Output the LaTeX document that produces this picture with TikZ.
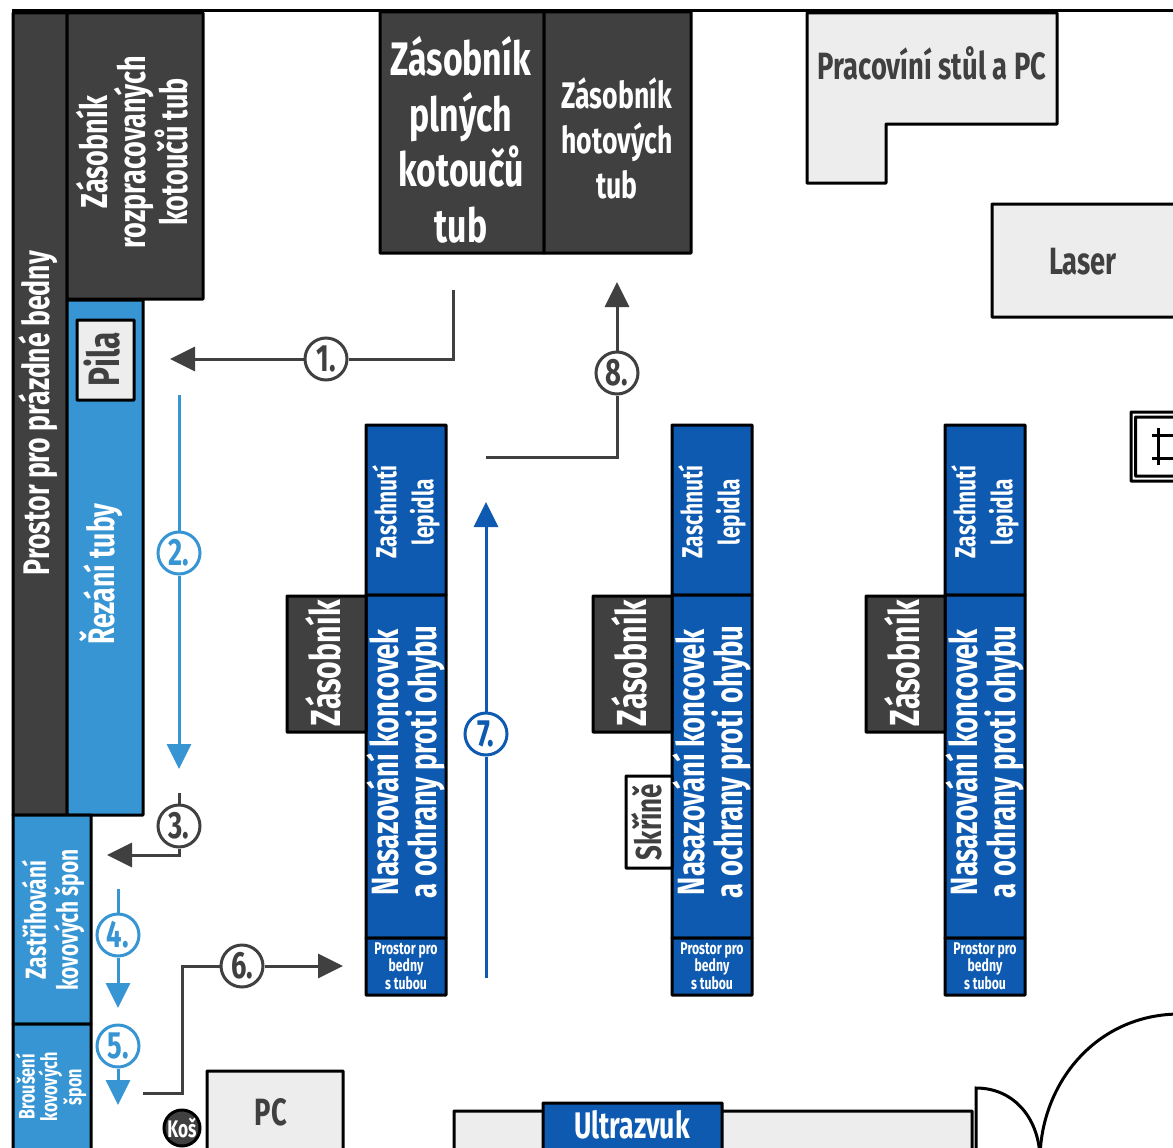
\documentclass[tikz,border=0pt]{standalone}
\usepackage{fontspec}
\usetikzlibrary{arrows.meta}
\newfontfamily\din[FakeStretch=0.72]{Fira Sans}
\definecolor{dk}{HTML}{404040}
\definecolor{lb}{HTML}{3895D3}
\definecolor{db}{HTML}{0D5AB0}
\definecolor{gr}{HTML}{EDEDED}
\newcommand{\fsz}[2]{\din\bfseries\fontsize{#1}{#2}\selectfont}
\newcommand{\bx}[6]{%
  \pgfmathsetmacro{\cxx}{(#2+#4)/2}\pgfmathsetmacro{\cyy}{(#3+#5)/2}%
  \pgfmathsetmacro{\ww}{#4-#2}\pgfmathsetmacro{\hh}{#5-#3}%
  \node[area,#6,minimum width=\ww pt,minimum height=\hh pt] (#1) at (\cxx,\cyy) {};}
\tikzset{
  area/.style={draw=black,line width=3pt,inner sep=0pt,outer sep=0pt,rounded corners=0.6pt},
  dark/.style={fill=dk}, light/.style={fill=lb}, deep/.style={fill=db}, pale/.style={fill=gr},
  wt/.style={text=white,align=center,inner sep=0pt},
  bk/.style={text=dk,align=center,inner sep=0pt},
  rot/.style={rotate=90},
  num/.style={circle,draw=#1,text=#1,fill=white,line width=3pt,minimum size=42pt,inner sep=0pt,font=\fsz{38}{40}},
  flow/.style={draw=#1,line width=3pt,-{Triangle[length=25pt,width=24pt,fill=#1]}},
  lead/.style={draw=#1,line width=3pt}
}
\begin{document}
\begin{tikzpicture}[x=1pt,y=-1pt]
\useasboundingbox (0,0) rectangle (1173,1148);
\clip (0,0) rectangle (1173,1148);
% top wall
\coordinate (wallL) at (12,11); \coordinate (wallR) at (1180,11);
\draw[black,line width=3pt] (wallL) -- (wallR);
% areas
\bx{pr}{13}{13}{67}{815}{dark}
\bx{zr}{67}{13}{203}{299}{dark}
\bx{rz}{67}{300}{143}{815}{light}
\bx{pl}{77}{320}{134}{400}{pale}
\bx{zs}{13}{815}{91}{1024}{light}
\bx{br}{13}{1024}{91}{1160}{light}
\bx{zp}{380}{12}{544}{253}{dark}
\bx{zh}{544}{12}{691}{253}{dark}
\draw[area,fill=gr] (807,13) -- (1057,13) -- (1057,124) -- (886,124) -- (886,183) -- (807,183) -- cycle;
\bx{ls}{992}{204}{1185}{317}{pale}
% object at the right edge
\bx{ob}{1131}{412}{1185}{481}{draw=black,fill=white}
\bx{oi}{1135.5}{417}{1185}{476}{draw=black,fill=white}
\coordinate (h1a) at (1158.5,428); \coordinate (h1b) at (1158.5,465);
\coordinate (h2a) at (1152,435); \coordinate (h2b) at (1180,435);
\coordinate (h3a) at (1152,458); \coordinate (h3b) at (1180,458);
\draw[black,line width=3pt] (h1a) -- (h1b) (h2a) -- (h2b) (h3a) -- (h3b);
% stations
\bx{z1}{366}{425}{446}{595}{deep}
\bx{n1}{366}{595}{446}{938}{deep}
\bx{p1}{366}{938}{446}{995}{deep}
\bx{s1}{287}{596}{366}{732}{dark}
\bx{z2}{672}{425}{752}{595}{deep}
\bx{n2}{672}{595}{752}{938}{deep}
\bx{p2}{672}{938}{752}{995}{deep}
\bx{s2}{593}{596}{672}{732}{dark}
\bx{z3}{945}{425}{1025}{595}{deep}
\bx{n3}{945}{595}{1025}{938}{deep}
\bx{p3}{945}{938}{1025}{995}{deep}
\bx{s3}{866}{596}{945}{732}{dark}
\bx{sk}{626}{776}{672}{868}{draw=black,fill=white}
\bx{pc}{207}{1071}{343}{1165}{pale}
\node[circle,draw=black,fill=dk,line width=3pt,minimum size=36pt,inner sep=0pt] (ks) at (182,1128) {};
\bx{ug}{454}{1111}{972}{1165}{pale}
\bx{ub}{543}{1103}{722}{1165}{deep}
% doors
\coordinate (da) at (976,1160); \coordinate (db) at (976,1088); \coordinate (dc) at (1040,1160);
\coordinate (dd) at (1180,1014);
\draw[black,line width=3pt] (da) -- (db) .. controls (1015,1088) and (1040,1120) .. (dc);
\draw[black,line width=3pt] (dc) .. controls (1040,1085) and (1095,1014) .. (dd);
% texts
\node[wt,rot,font=\fsz{37}{40}] (t1) at (38,413) {Prostor pro prázdné bedny};
\node[wt,rot,font=\fsz{37.5}{38}] (t2) at (132,152) {Zásobník\\rozpracovaných\\kotoučů tub};
\node[bk,rot,font=\fsz{44}{44}] (t3) at (102,359) {Pila};
\node[wt,rot,font=\fsz{37}{40}] (t4) at (101,574) {Řezání tuby};
\node[wt,font=\fsz{47}{55.5}] (t5) at (461,140) {Zásobník\\plných\\kotoučů\\tub};
\node[wt,font=\fsz{37}{45}] (t6) at (617,138.5) {Zásobník\\hotových\\tub};
\node[bk,font=\fsz{38}{40}] (t7) at (932,63) {Pracovíní stůl a PC};
\node[bk,font=\fsz{38}{40}] (t8) at (1083,262) {Laser};
\foreach \xx/\ss in {406/1,712/2,985/3}{
  \node[wt,rot,font=\fsz{29}{37}] (za\ss) at (\xx,512) {Zaschnutí\\lepidla};
  \node[wt,rot,font=\fsz{38}{38}] (na\ss) at (\xx,762) {Nasazování koncovek\\a ochrany proti ohybu};
  \node[wt,font=\fsz{17}{15.5}] (pb\ss) at (\xx,966) {Prostor pro\\bedny\\s tubou};
}
\node[wt,rot,font=\fsz{42}{44}] (zb1) at (323,663) {Zásobník};
\node[wt,rot,font=\fsz{42}{44}] (zb2) at (629,663) {Zásobník};
\node[wt,rot,font=\fsz{42}{44}] (zb3) at (902,663) {Zásobník};
\node[bk,rot,font=\fsz{36}{36}] (t9) at (647,822) {Skříně};
\node[wt,rot,font=\fsz{29}{32}] (t10) at (53,920) {Zastřihování\\kovových špon};
\node[wt,rot,font=\fsz{22.5}{22.5}] (t11) at (51,1087) {Broušení\\kovových\\špon};
\node[wt,font=\fsz{37}{40}] (t12) at (632,1125) {Ultrazvuk};
\node[bk,font=\fsz{38}{40}] (t13) at (271,1112) {PC};
\node[wt,font=\fsz{24}{26}] (t14) at (182,1128) {Koš};
% numbered steps
\node[num=dk] (c1) at (326,359) {1.};
\node[num=lb] (c2) at (179,553) {2.};
\node[num=dk] (c3) at (179,826) {3.};
\node[num=lb] (c4) at (118,935) {4.};
\node[num=lb] (c5) at (118,1046) {5.};
\node[num=dk] (c6) at (242,966) {6.};
\node[num=db] (c7) at (486,734) {7.};
\node[num=dk] (c8) at (617,373) {8.};
% connector ends
\coordinate (a1) at (453,290); \coordinate (b1) at (170,359);
\coordinate (a2) at (179,395); \coordinate (b2) at (179,769);
\coordinate (a3) at (179,793); \coordinate (b3) at (107,855);
\coordinate (a4) at (118,889); \coordinate (b4) at (118,1008);
\coordinate (b5) at (118,1105);
\coordinate (a6) at (143,1093); \coordinate (k6) at (182,1093); \coordinate (k7) at (182,966); \coordinate (b6) at (343,966);
\coordinate (a7) at (486,978); \coordinate (b7) at (486,502);
\coordinate (a8) at (486,457); \coordinate (k8) at (617,457); \coordinate (b8) at (617,282);
% connectors
\draw[lead=dk] (a1) |- (c1);
\draw[flow=dk] (c1) -- (b1);
\draw[lead=lb] (a2) -- (c2);
\draw[flow=lb] (c2) -- (b2);
\draw[lead=dk] (a3) -- (c3);
\draw[flow=dk] (c3) |- (b3);
\draw[lead=lb] (a4) -- (c4);
\draw[flow=lb] (c4) -- (b4);
\draw[flow=lb] (c5) -- (b5);
\draw[lead=dk] (a6) -- (k6) -- (k7) -- (c6);
\draw[flow=dk] (c6) -- (b6);
\draw[lead=db] (a7) -- (c7);
\draw[flow=db] (c7) -- (b7);
\draw[lead=dk] (a8) -- (k8) -- (c8);
\draw[flow=dk] (c8) -- (b8);
\end{tikzpicture}
\end{document}
